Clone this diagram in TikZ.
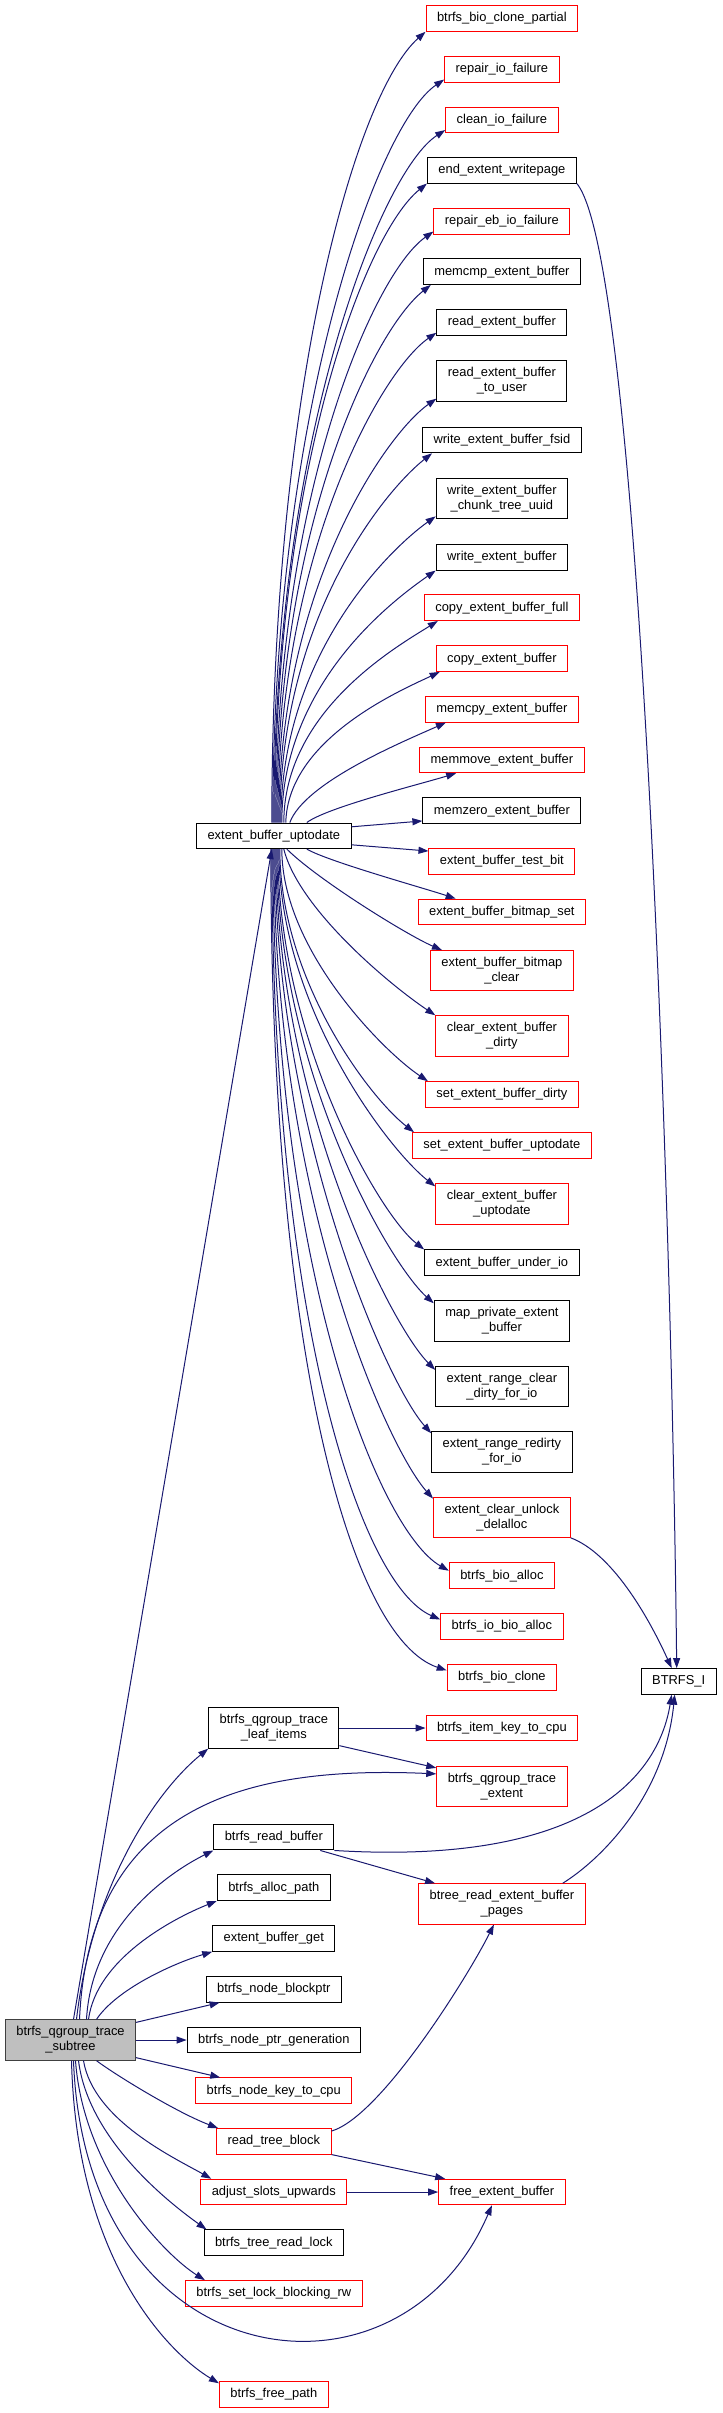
\documentclass[tikz,border=0pt]{standalone}
\usepackage{fontspec}
\setmainfont{Liberation Sans}
\usetikzlibrary{arrows.meta}

\definecolor{edgeblue}{RGB}{25,25,112}
\definecolor{fnred}{RGB}{255,0,0}
\definecolor{rootgray}{RGB}{191,191,191}

\tikzset{
  fn/.style={draw=black, line width=1pt, fill=white, inner xsep=11pt, inner ysep=0pt,
    minimum height=25.5pt, align=center, font=\fontsize{12.9}{15}\selectfont},
  fnr/.style={fn, draw=fnred},
  tall/.style={minimum height=40.3pt},
  callarrow/.style={edgeblue, line width=1pt, -{Triangle[length=10pt,width=7pt]}}
}

\begin{document}
\begin{tikzpicture}[x=1pt, y=-1pt]

\def\xA{70.5}  
\def\xB{273.8} 
\def\xC{501.9} 

\fill[white] (0,0) rectangle (723,2413);
\useasboundingbox (0,0) rectangle (723,2413);

\node[fn, tall, fill=rootgray, draw=black!75] (root) at (\xA,2040) {btrfs\_qgroup\_trace\\\_subtree};

\node[fn]       (ebu)   at (\xB,835.8)  {extent\_buffer\_uptodate};
\node[fn, tall] (leaf)  at (\xB,1728)   {btrfs\_qgroup\_trace\\\_leaf\_items};
\node[fn]       (rbuf)  at (\xB,1837.2) {btrfs\_read\_buffer};
\node[fn]       (apath) at (\xB,1887.7) {btrfs\_alloc\_path};
\node[fn]       (ebget) at (\xB,1938.5) {extent\_buffer\_get};
\node[fn]       (nbp)   at (\xB,1989.3) {btrfs\_node\_blockptr};
\node[fn]       (npg)   at (\xB,2040)   {btrfs\_node\_ptr\_generation};
\node[fnr]      (nkey)  at (\xB,2090.7) {btrfs\_node\_key\_to\_cpu};
\node[fnr]      (rtb)   at (\xB,2141.3) {read\_tree\_block};
\node[fnr]      (asu)   at (\xB,2192)   {adjust\_slots\_upwards};
\node[fn]       (trl)   at (\xB,2242.7) {btrfs\_tree\_read\_lock};
\node[fnr]      (slb)   at (\xB,2293.3) {btrfs\_set\_lock\_blocking\_rw};
\node[fnr]      (fpath) at (\xB,2394.5) {btrfs\_free\_path};

\node[fnr]       (bcp)     at (\xC,18.5)   {btrfs\_bio\_clone\_partial};
\node[fnr]       (rif)     at (\xC,69.3)   {repair\_io\_failure};
\node[fnr]       (cif)     at (\xC,119.8)  {clean\_io\_failure};
\node[fn]        (eew)     at (\xC,170.3)  {end\_extent\_writepage};
\node[fnr]       (rebf)    at (\xC,221.3)  {repair\_eb\_io\_failure};
\node[fn]        (mcmp)    at (\xC,271.7)  {memcmp\_extent\_buffer};
\node[fn]        (reb)     at (\xC,322.5)  {read\_extent\_buffer};
\node[fn, tall]  (rebu)    at (\xC,381)    {read\_extent\_buffer\\\_to\_user};
\node[fn]        (webf)    at (\xC,440)    {write\_extent\_buffer\_fsid};
\node[fn, tall]  (wctu)    at (\xC,498.7)  {write\_extent\_buffer\\\_chunk\_tree\_uuid};
\node[fn]        (web)     at (\xC,557.3)  {write\_extent\_buffer};
\node[fnr]       (cebf)    at (\xC,607.7)  {copy\_extent\_buffer\_full};
\node[fnr]       (ceb)     at (\xC,658.7)  {copy\_extent\_buffer};
\node[fnr]       (mcpy)    at (\xC,709.3)  {memcpy\_extent\_buffer};
\node[fnr]       (mmov)    at (\xC,760)    {memmove\_extent\_buffer};
\node[fn]        (mzero)   at (\xC,810.7)  {memzero\_extent\_buffer};
\node[fnr]       (tbit)    at (\xC,861.3)  {extent\_buffer\_test\_bit};
\node[fnr]       (bset)    at (\xC,911.9)  {extent\_buffer\_bitmap\_set};
\node[fnr, tall] (bclr)    at (\xC,970.7)  {extent\_buffer\_bitmap\\\_clear};
\node[fnr, tall] (cdirty)  at (\xC,1035.9) {clear\_extent\_buffer\\\_dirty};
\node[fnr]       (sdirty)  at (\xC,1094.4) {set\_extent\_buffer\_dirty};
\node[fnr]       (sutd)    at (\xC,1145.4) {set\_extent\_buffer\_uptodate};
\node[fnr, tall] (cutd)    at (\xC,1204)   {clear\_extent\_buffer\\\_uptodate};
\node[fn]        (uio)     at (\xC,1262.7) {extent\_buffer\_under\_io};
\node[fn, tall]  (mpeb)    at (\xC,1320.9) {map\_private\_extent\\\_buffer};
\node[fn, tall]  (rcd)     at (\xC,1386.5) {extent\_range\_clear\\\_dirty\_for\_io};
\node[fn, tall]  (rrd)     at (\xC,1451.9) {extent\_range\_redirty\\\_for\_io};
\node[fnr, tall] (cud)     at (\xC,1517.2) {extent\_clear\_unlock\\\_delalloc};
\node[fnr]       (balloc)  at (\xC,1575.7) {btrfs\_bio\_alloc};
\node[fnr]       (ioalloc) at (\xC,1626.5) {btrfs\_io\_bio\_alloc};
\node[fnr]       (bclone)  at (\xC,1677.4) {btrfs\_bio\_clone};
\node[fnr]       (ikey)    at (\xC,1728)   {btrfs\_item\_key\_to\_cpu};
\node[fnr, tall] (qte)     at (\xC,1786.5) {btrfs\_qgroup\_trace\\\_extent};
\node[fnr, tall] (brep)    at (\xC,1903.9) {btree\_read\_extent\_buffer\\\_pages};
\node[fnr]       (feb)     at (\xC,2192)   {free\_extent\_buffer};

\node[fn] (bti) at (678.7,1681.4) {BTRFS\_I};

\draw[callarrow] ([xshift=-2]ebu.north) .. controls +(0,-436) and +(-70,62) .. (bcp.south west);
\draw[callarrow] ([xshift=-1]ebu.north) .. controls +(0,-409) and +(-67,45) .. ([yshift=3]rif.south west);
\draw[callarrow] (ebu.north) .. controls +(0,-381) and +(-65,42) .. ([yshift=3]cif.south west);
\draw[callarrow] ([xshift=1]ebu.north) .. controls +(0,-352) and +(-62,50) .. (eew.south west);
\draw[callarrow] ([xshift=2]ebu.north) .. controls +(0,-326) and +(-60,42) .. ([yshift=3]rebf.south west);
\draw[callarrow] ([xshift=3]ebu.north) .. controls +(0,-296) and +(-57,45) .. ([xshift=8]mcmp.south west);
\draw[callarrow] ([xshift=4]ebu.north) .. controls +(0,-270) and +(-55,38) .. ([yshift=3]reb.south west);
\draw[callarrow] ([xshift=5]ebu.north) .. controls +(0,-234) and +(-51,36) .. ([yshift=3]rebu.south west);
\draw[callarrow] ([xshift=6]ebu.north) .. controls +(0,-204) and +(-48,38) .. ([xshift=10]webf.south west);
\draw[callarrow] ([xshift=7]ebu.north) .. controls +(0,-169) and +(-45,32) .. ([yshift=3]wctu.south west);
\draw[callarrow] ([xshift=8]ebu.north) .. controls +(0,-139) and +(-43,30) .. (web.south west);
\draw[callarrow] ([xshift=10]ebu.north) .. controls +(0,-112) and +(-40,25) .. ([xshift=14]cebf.south west);
\draw[callarrow] ([xshift=12]ebu.north) .. controls +(2,-84) and +(-38,18) .. ([xshift=4]ceb.south west);
\draw[callarrow] ([xshift=16]ebu.north) .. controls +(15,-40) and +(-45,20) .. ([xshift=21]mcpy.south west);
\draw[callarrow] ([xshift=33]ebu.north) .. controls +(20,-15) and +(-40,12) .. ([xshift=37]mmov.south west);
\draw[callarrow] ([yshift=9]ebu.east) -- ([yshift=3]mzero.south west);
\draw[callarrow] ([yshift=-9]ebu.east) -- ([yshift=-3]tbit.north west);
\draw[callarrow] ([xshift=33]ebu.south) .. controls +(20,12) and +(-30,-10) .. ([xshift=38]bset.north west);
\draw[callarrow] ([xshift=13]ebu.south) .. controls +(30,30) and +(-35,-15) .. ([xshift=12]bclr.north west);
\draw[callarrow] ([xshift=10]ebu.south) .. controls +(15,60) and +(-45,-30) .. (cdirty.north west);
\draw[callarrow] ([xshift=8]ebu.south) .. controls +(0,100) and +(-45,-30) .. ([xshift=3]sdirty.north west);
\draw[callarrow] ([xshift=6]ebu.south) .. controls +(0,130) and +(-45,-35) .. ([xshift=2]sutd.north west);
\draw[callarrow] ([xshift=5]ebu.south) .. controls +(0,160) and +(-45,-35) .. ([yshift=-3]cutd.north west);
\draw[callarrow] ([xshift=4]ebu.south) .. controls +(0,190) and +(-45,-35) .. (uio.north west);
\draw[callarrow] ([xshift=3]ebu.south) .. controls +(0,220) and +(-45,-40) .. ([yshift=-3]mpeb.north west);
\draw[callarrow] ([xshift=2]ebu.south) .. controls +(0,250) and +(-45,-45) .. ([yshift=-4]rcd.north west);
\draw[callarrow] ([xshift=1]ebu.south) .. controls +(0,280) and +(-45,-50) .. ([yshift=-2]rrd.north west);
\draw[callarrow] (ebu.south) .. controls +(0,350) and +(-45,-50) .. ([yshift=-2]cud.north west);
\draw[callarrow] ([xshift=-1]ebu.south) .. controls +(0,420) and +(-70,-40) .. ([yshift=5]balloc.west);
\draw[callarrow] ([xshift=-2]ebu.south) .. controls +(0,470) and +(-80,-35) .. ([yshift=7]ioalloc.west);
\draw[callarrow] ([xshift=-3]ebu.south) .. controls +(0,510) and +(-95,-32) .. ([yshift=7]bclone.west);

\draw[callarrow] ([xshift=3]root.north) -- ([xshift=-2]ebu.south);
\draw[callarrow] ([xshift=6]root.north) .. controls +(15,-130) and +(-55,45) .. (leaf.south west);
\draw[callarrow] ([xshift=9]root.north) .. controls +(10,-220) and +(-180,-8) .. ([yshift=-8]qte.north west);
\draw[callarrow] ([xshift=16]root.north) .. controls +(5,-90) and +(-50,25) .. (rbuf.south west);
\draw[callarrow] ([xshift=18]root.north) .. controls +(8,-60) and +(-45,18) .. (apath.south west);
\draw[callarrow] ([xshift=26]root.north) .. controls +(20,-30) and +(-40,12) .. (ebget.south west);
\draw[callarrow] ([yshift=-3]root.north east) -- ([xshift=14]nbp.south west);
\draw[callarrow] (root.east) -- (npg.west);
\draw[callarrow] ([yshift=3]root.south east) -- ([xshift=25]nkey.north west);
\draw[callarrow] ([xshift=26]root.south) .. controls +(20,15) and +(-40,-15) .. ([xshift=2]rtb.north west);
\draw[callarrow] ([xshift=13]root.south) .. controls +(10,60) and +(-35,-20) .. ([xshift=11]asu.north west);
\draw[callarrow] ([xshift=8]root.south) .. controls +(10,80) and +(-35,-25) .. ([xshift=3]trl.north west);
\draw[callarrow] ([xshift=5]root.south) .. controls +(8,110) and +(-40,-25) .. ([xshift=20]slb.north west);
\draw[callarrow] ([xshift=3]root.south) .. controls +(12,320) and +(-92,215) .. ([xshift=-10]feb.south);
\draw[callarrow] ([xshift=1]root.south) .. controls +(5,200) and +(-50,-30) .. ([yshift=-2]fpath.north west);

\draw[callarrow] (leaf.east) -- (ikey.west);
\draw[callarrow] ([yshift=3]leaf.south east) -- ([yshift=-2]qte.north west);
\draw[callarrow] (rbuf.south east) .. controls +(246,15) and +(-14,86) .. ([xshift=-7]bti.south);
\draw[callarrow] ([xshift=-14]rbuf.south east) -- ([xshift=17]brep.north west);
\draw[callarrow] ([xshift=-23]brep.north east) .. controls +(40,-25) and +(-10,100) .. ([xshift=-4]bti.south);
\draw[callarrow] ([yshift=-3]rtb.north east) .. controls +(50,-15) and +(-25,50) .. ([xshift=-8]brep.south);
\draw[callarrow] (rtb.south east) -- ([xshift=7]feb.north west);
\draw[callarrow] (asu.east) -- (feb.west);
\draw[callarrow] (eew.south east) .. controls +(63,77) and +(-5,-469) .. ([xshift=-2]bti.north);
\draw[callarrow] (cud.south east) .. controls +(40,15) and +(-25,-55) .. ([xshift=-7]bti.north);

\end{tikzpicture}
\end{document}
